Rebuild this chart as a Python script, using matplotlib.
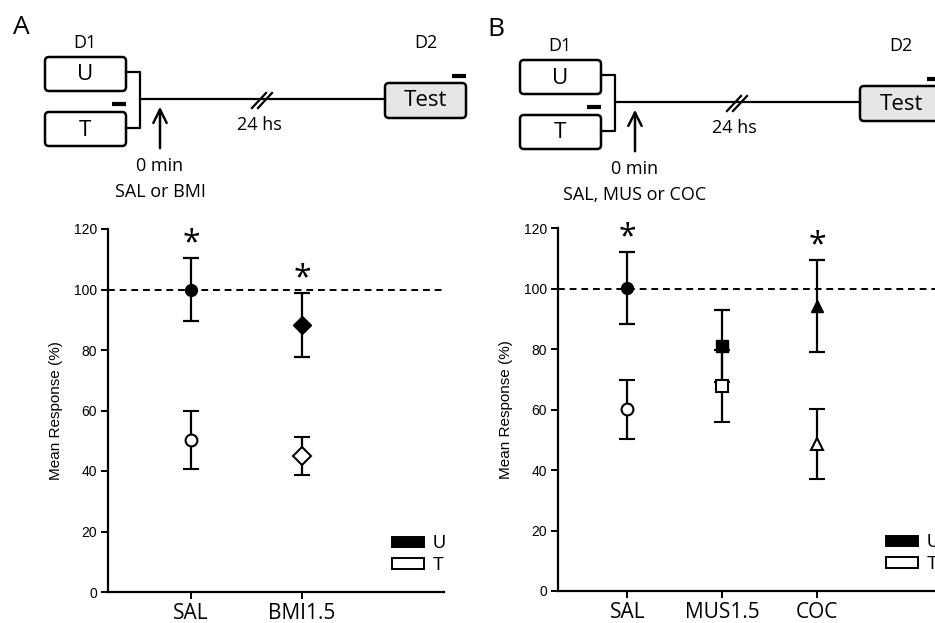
import matplotlib
matplotlib.use('Agg')
import matplotlib.pyplot as plt
from matplotlib.patches import FancyBboxPatch, Patch

# Panel A data (mean response %, SEM)
groups_a = ['SAL', 'BMI1.5']
u_mean_a = [100.0, 88.3]
u_err_a = [10.5, 10.6]
t_mean_a = [50.3, 45.0]
t_err_a = [9.5, 6.2]
markers_a = ['o', 'D']
star_a = [True, True]

# Panel B data
groups_b = ['SAL', 'MUS1.5', 'COC']
u_mean_b = [100.2, 81.0, 94.2]
u_err_b = [11.9, 11.8, 15.3]
t_mean_b = [60.1, 67.8, 48.5]
t_err_b = [9.7, 11.9, 11.6]
markers_b = ['o', 's', '^']
star_b = [True, False, True]

W, H = 935, 623
SCHEM_FONT = 'Open Sans'
AX_FONT = 'Liberation Sans'

fig = plt.figure(figsize=(W / 100, H / 100), dpi=100)

# schematic layer in pixel coordinates
sk = fig.add_axes([0, 0, 1, 1])
sk.set_xlim(0, W)
sk.set_ylim(H, 0)
sk.axis('off')


def draw_schematic(ox, oy, drug_text, panel, test_right):
    """Protocol drawing; ox, oy shift the whole thing."""
    sk.text(ox + 21, oy + 27, panel, fontsize=19, family=SCHEM_FONT, ha='center', va='center')
    sk.text(ox + 85, oy + 43, 'D1', fontsize=13, family=SCHEM_FONT, ha='center', va='center')
    for y0, lab in [(57, 'U'), (112, 'T')]:
        box = FancyBboxPatch((ox + 45, oy + y0), 81, 34,
                             boxstyle='round,pad=0,rounding_size=4',
                             fc='white', ec='black', lw=1.8)
        sk.add_patch(box)
        sk.text(ox + 85, oy + y0 + 18, lab, fontsize=16, family=SCHEM_FONT, ha='center', va='center')
    # bracket + main line
    sk.plot([ox + 126, ox + 140, ox + 140, ox + 126],
            [oy + 72, oy + 72, oy + 128, oy + 128], color='black', lw=1.6)
    sk.plot([ox + 140, ox + 385], [oy + 99, oy + 99], color='black', lw=1.6)
    # minus sign above T
    sk.plot([ox + 112, ox + 126], [oy + 104, oy + 104], color='black', lw=3, solid_capstyle='butt')
    # injection arrow
    sk.annotate('', xy=(ox + 160, oy + 104), xytext=(ox + 160, oy + 151),
                arrowprops=dict(arrowstyle='->', lw=1.8, color='black', mutation_scale=24))
    sk.text(ox + 160, oy + 166, '0 min', fontsize=13, family=SCHEM_FONT, ha='center', va='center')
    sk.text(ox + 160, oy + 192, drug_text, fontsize=13, family=SCHEM_FONT, ha='center', va='center')
    # break marks
    for dx in (0, 6):
        sk.plot([ox + 252 + dx, ox + 266 + dx], [oy + 108, oy + 93], color='black', lw=1.6)
    sk.text(ox + 259, oy + 125, '24 hs', fontsize=13, family=SCHEM_FONT, ha='center', va='center')
    # test box
    box = FancyBboxPatch((ox + 385, oy + 83), test_right - 385, 35,
                         boxstyle='round,pad=0,rounding_size=4',
                         fc='#e6e6e6', ec='black', lw=1.8)
    sk.add_patch(box)
    sk.text(ox + 426, oy + 101, 'Test', fontsize=16, family=SCHEM_FONT, ha='center', va='center')
    sk.plot([ox + 452, ox + 466], [oy + 76, oy + 76], color='black', lw=3, solid_capstyle='butt')
    sk.text(ox + 426, oy + 43, 'D2', fontsize=13, family=SCHEM_FONT, ha='center', va='center')


draw_schematic(0, 0, 'SAL or BMI', 'A', 466)
draw_schematic(475, 3, 'SAL, MUS or COC', 'B', 490)


def draw_panel(rect, groups, u_mean, u_err, t_mean, t_err, markers, stars, xlim):
    ax = fig.add_axes(rect)
    xs = list(range(1, len(groups) + 1))
    ax.axhline(100, color='black', lw=1.4, ls=(0, (3.5, 2.5)), zorder=1)
    for x, um, ue, tm, te, mk in zip(xs, u_mean, u_err, t_mean, t_err, markers):
        ms = 9 if mk == 'D' else 8.5
        ax.errorbar(x, um, yerr=ue, fmt=mk, color='black', mfc='black', mec='black',
                    ms=ms, elinewidth=1.6, capsize=6, capthick=1.6, zorder=3)
        ax.errorbar(x, tm, yerr=te, fmt=mk, color='black', mfc='white', mec='black', mew=1.5,
                    ms=ms, elinewidth=1.6, capsize=6, capthick=1.6, zorder=3)
    for x, um, ue, s in zip(xs, u_mean, u_err, stars):
        if s:
            ax.text(x, um + ue + 4.5, '*', fontsize=23, family=SCHEM_FONT,
                    ha='center', va='center')
    ax.set_xlim(*xlim)
    ax.set_ylim(0, 120)
    ax.set_yticks(range(0, 121, 20))
    ax.set_xticks(xs)
    ax.set_xticklabels(groups, family=SCHEM_FONT, fontsize=15)
    for lab in ax.get_yticklabels():
        lab.set_family(AX_FONT)
        lab.set_fontsize(10)
    ax.set_ylabel('Mean Response (%)', family=AX_FONT, fontsize=11, labelpad=8)
    for side in ('top', 'right'):
        ax.spines[side].set_visible(False)
    for side in ('left', 'bottom'):
        ax.spines[side].set_linewidth(1.6)
    ax.tick_params(axis='both', direction='out', length=5, width=1.4, pad=3)
    ax.patch.set_alpha(0)
    handles = [Patch(fc='black', ec='black', lw=1.4, label='U'),
               Patch(fc='white', ec='black', lw=1.4, label='T')]
    ax.legend(handles=handles, loc='lower right', frameon=False,
              handlelength=1.75, handleheight=0.5, handletextpad=0.5,
              labelspacing=0.25, prop={'family': AX_FONT, 'size': 13},
              borderaxespad=0, borderpad=0, bbox_to_anchor=(1.005, 0.05))
    return ax


ax_a = draw_panel([108 / W, 31 / H, 336 / W, 363 / H], groups_a, u_mean_a, u_err_a,
                  t_mean_a, t_err_a, markers_a, star_a, (0.25, 3.28))
ax_b = draw_panel([558 / W, 32 / H, 380 / W, 363 / H], groups_b, u_mean_b, u_err_b,
                  t_mean_b, t_err_b, markers_b, star_b, (0.27, 4.27))

fig.savefig('out.png', dpi=100)
